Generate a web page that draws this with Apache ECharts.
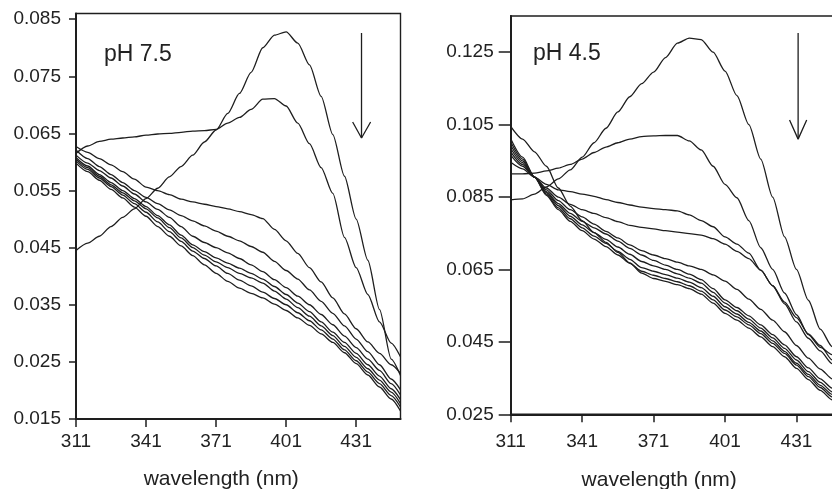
<!DOCTYPE html>
<html>
<head>
<meta charset="utf-8">
<script src="https://cdn.jsdelivr.net/npm/echarts@6/dist/echarts.min.js"></script>
<style>
html,body{margin:0;padding:0;background:#fff;}
#chart{width:832px;height:489px;}
</style>
</head>
<body>
<div id="chart"></div>
<script>
// ---------- data ----------
const wavelengths = [311,316,321,326,331,336,341,346,351,356,361,366,371,376,381,386,391,396,401,406,411,416,421,426,431,436,441,446,450];

const xTicks = [311,341,371,401,431];
const yTicksLeft = [0.015,0.025,0.035,0.045,0.055,0.065,0.075,0.085];
const yTicksRight = [0.025,0.045,0.065,0.085,0.105,0.125];

// pH 7.5 spectra
const ph75_1 = [0.0445,0.0458,0.0470,0.0487,0.0503,0.0518,0.0536,0.0554,0.0574,0.0592,0.0612,0.0635,0.0656,0.0685,0.0720,0.0757,0.0800,0.0822,0.0828,0.0808,0.0770,0.0715,0.0648,0.0575,0.0500,0.0428,0.0342,0.0255,0.0226];
const ph75_2 = [0.0615,0.0628,0.0636,0.0640,0.0642,0.0644,0.0647,0.0649,0.0650,0.0652,0.0654,0.0655,0.0657,0.0668,0.0678,0.0692,0.0710,0.0711,0.0698,0.0668,0.0632,0.0590,0.0545,0.0468,0.0415,0.0368,0.0320,0.0283,0.0259];
const ph75_3 = [0.0627,0.0617,0.0606,0.0595,0.0583,0.0570,0.0556,0.0550,0.0543,0.0535,0.0530,0.0526,0.0522,0.0518,0.0513,0.0508,0.0501,0.0482,0.0462,0.0440,0.0415,0.0390,0.0362,0.0334,0.0308,0.0285,0.0265,0.0245,0.0230];
const ph75_4 = [0.0621,0.0606,0.0592,0.0578,0.0564,0.0550,0.0538,0.0527,0.0516,0.0506,0.0497,0.0488,0.0479,0.0470,0.0462,0.0452,0.0442,0.0426,0.0410,0.0395,0.0376,0.0356,0.0335,0.0313,0.0290,0.0268,0.0245,0.0220,0.0201];
const ph75_5 = [0.0612,0.0598,0.0585,0.0572,0.0558,0.0544,0.0530,0.0517,0.0503,0.0487,0.0470,0.0459,0.0450,0.0441,0.0431,0.0420,0.0408,0.0394,0.0380,0.0365,0.0350,0.0333,0.0315,0.0295,0.0275,0.0255,0.0235,0.0212,0.0192];
const ph75_6 = [0.0608,0.0593,0.0578,0.0564,0.0550,0.0536,0.0522,0.0506,0.0490,0.0472,0.0455,0.0443,0.0432,0.0423,0.0414,0.0405,0.0395,0.0382,0.0368,0.0353,0.0338,0.0320,0.0302,0.0284,0.0265,0.0245,0.0225,0.0203,0.0184];
const ph75_7 = [0.0605,0.0590,0.0575,0.0560,0.0546,0.0532,0.0518,0.0502,0.0485,0.0467,0.0450,0.0437,0.0425,0.0415,0.0405,0.0397,0.0388,0.0374,0.0360,0.0345,0.0330,0.0313,0.0296,0.0277,0.0258,0.0238,0.0218,0.0197,0.0177];
const ph75_8 = [0.0602,0.0587,0.0572,0.0557,0.0542,0.0527,0.0512,0.0495,0.0478,0.0461,0.0444,0.0431,0.0418,0.0405,0.0393,0.0383,0.0372,0.0361,0.0350,0.0336,0.0322,0.0306,0.0290,0.0271,0.0252,0.0232,0.0212,0.0191,0.0171];
const ph75_9 = [0.0598,0.0583,0.0568,0.0552,0.0537,0.0521,0.0505,0.0487,0.0470,0.0453,0.0436,0.0420,0.0405,0.0391,0.0379,0.0370,0.0362,0.0351,0.0340,0.0327,0.0314,0.0299,0.0284,0.0266,0.0247,0.0227,0.0206,0.0185,0.0164];

// pH 4.5 spectra
const ph45_1 = [0.0842,0.0845,0.0858,0.0878,0.0900,0.0925,0.0960,0.1000,0.1040,0.1085,0.1127,0.1163,0.1195,0.1235,0.1275,0.1289,0.1285,0.1250,0.1198,0.1130,0.1050,0.0955,0.0850,0.0740,0.0650,0.0565,0.0485,0.0437,0.0410];
const ph45_2 = [0.0914,0.0914,0.0916,0.0922,0.0930,0.0940,0.0955,0.0973,0.0988,0.1000,0.1010,0.1017,0.1019,0.1020,0.1020,0.1005,0.0980,0.0935,0.0885,0.0848,0.0785,0.0710,0.0650,0.0585,0.0525,0.0470,0.0435,0.0415,0.0398];
const ph45_3 = [0.0946,0.0928,0.0905,0.0885,0.0870,0.0865,0.0858,0.0852,0.0843,0.0835,0.0828,0.0822,0.0818,0.0815,0.0812,0.0801,0.0785,0.0768,0.0740,0.0720,0.0695,0.0648,0.0605,0.0560,0.0517,0.0472,0.0440,0.0400,0.0385];
const ph45_4 = [0.0966,0.0935,0.0905,0.0875,0.0850,0.0830,0.0815,0.0805,0.0793,0.0782,0.0772,0.0766,0.0762,0.0757,0.0753,0.0749,0.0745,0.0735,0.0720,0.0700,0.0680,0.0648,0.0605,0.0555,0.0505,0.0460,0.0425,0.0390,0.0372];
const ph45_5 = [0.0975,0.0940,0.0905,0.0870,0.0840,0.0815,0.0795,0.0775,0.0755,0.0737,0.0718,0.0702,0.0690,0.0680,0.0670,0.0660,0.0650,0.0635,0.0618,0.0595,0.0568,0.0540,0.0510,0.0478,0.0440,0.0405,0.0375,0.0348,0.0335];
const ph45_6 = [0.0984,0.0945,0.0905,0.0865,0.0832,0.0805,0.0783,0.0765,0.0748,0.0728,0.0708,0.0690,0.0675,0.0662,0.0650,0.0637,0.0622,0.0597,0.0566,0.0545,0.0522,0.0497,0.0470,0.0442,0.0409,0.0378,0.0348,0.0322,0.0310];
const ph45_7 = [0.0993,0.0950,0.0905,0.0862,0.0826,0.0797,0.0773,0.0752,0.0733,0.0712,0.0692,0.0672,0.0660,0.0650,0.0638,0.0626,0.0612,0.0587,0.0557,0.0536,0.0513,0.0488,0.0461,0.0432,0.0400,0.0368,0.0338,0.0312,0.0300];
const ph45_8 = [0.1002,0.0955,0.0905,0.0858,0.0820,0.0790,0.0765,0.0742,0.0722,0.0700,0.0678,0.0655,0.0645,0.0636,0.0626,0.0615,0.0600,0.0576,0.0547,0.0527,0.0504,0.0480,0.0453,0.0424,0.0391,0.0360,0.0330,0.0305,0.0293];
const ph45_9 = [0.1011,0.0960,0.0905,0.0855,0.0815,0.0783,0.0757,0.0734,0.0713,0.0690,0.0667,0.0645,0.0634,0.0625,0.0616,0.0605,0.0590,0.0566,0.0538,0.0519,0.0497,0.0473,0.0446,0.0418,0.0386,0.0354,0.0324,0.0298,0.0287];
const ph45_10 = [0.1045,0.1010,0.0975,0.0935,0.0875,0.0825,0.0785,0.0752,0.0725,0.0697,0.0668,0.0640,0.0625,0.0617,0.0608,0.0597,0.0582,0.0557,0.0529,0.0510,0.0488,0.0464,0.0437,0.0409,0.0377,0.0346,0.0316,0.0290,0.0280];

// arrow annotations (data coordinates)
const arrowLeftShaft = [[433.3,0.0826],[433.3,0.0642]];
const arrowLeftHead = [[429.5,0.0670],[433.3,0.0642],[437.2,0.0670]];
const arrowRightShaft = [[431.7,0.1303],[431.7,0.1010]];
const arrowRightHead = [[428.1,0.1063],[431.7,0.1010],[435.3,0.1063]];

const panelLabels = ['pH 7.5','pH 4.5'];
const xAxisName = 'wavelength (nm)';

// ---------- chart ----------
const leftSpectra = [ph75_1,ph75_2,ph75_3,ph75_4,ph75_5,ph75_6,ph75_7,ph75_8,ph75_9];
const rightSpectra = [ph45_1,ph45_2,ph45_3,ph45_4,ph45_5,ph45_6,ph45_7,ph45_8,ph45_9,ph45_10];

const INK = '#1e1e1e';
const FONT = '"Liberation Sans", Arial, sans-serif';

function pairs(vals){ return vals.map((v,i)=>[wavelengths[i], v]); }

function lineSeries(vals, idx){
  return {
    type:'line', xAxisIndex:idx, yAxisIndex:idx, data:pairs(vals),
    showSymbol:false, symbol:'none', silent:true, animation:false,
    smooth:0.25, smoothMonotone:'x',
    lineStyle:{color:INK, width:1.3}, z:3
  };
}
function polySeries(pts, idx){
  return {
    type:'line', xAxisIndex:idx, yAxisIndex:idx, data:pts,
    showSymbol:false, symbol:'none', silent:true, animation:false,
    lineStyle:{color:INK, width:1.3}, z:4
  };
}

function xAxis(gridIndex, labelMargin, nameGap){
  return {
    type:'value', gridIndex, min:311, max:450,
    axisLine:{show:true, onZero:false, lineStyle:{color:INK, width:2}},
    axisTick:{show:true, length:8, customValues:xTicks, lineStyle:{color:INK, width:1.5}},
    axisLabel:{customValues:xTicks, margin:labelMargin, color:'#222', fontSize:19, fontFamily:FONT,
      formatter:v=>String(Math.round(v))},
    splitLine:{show:false},
    name:xAxisName, nameLocation:'middle', nameGap,
    nameTextStyle:{color:'#222', fontSize:21, fontFamily:FONT, padding:[0,34,0,0]}
  };
}
function yAxis(gridIndex, min, max, ticks, tickLen, labelMargin){
  return {
    type:'value', gridIndex, min, max,
    axisLine:{show:true, onZero:false, lineStyle:{color:INK, width:2}},
    axisTick:{show:true, length:tickLen, customValues:ticks, lineStyle:{color:INK, width:1.5}},
    axisLabel:{customValues:ticks, margin:labelMargin, color:'#222', fontSize:19, fontFamily:FONT,
      formatter:v=>v.toFixed(3)},
    splitLine:{show:false}
  };
}

const chart = echarts.init(document.getElementById('chart'), null, {renderer:'canvas'});
chart.setOption({
  animation:false,
  backgroundColor:'#fff',
  grid:[
    {left:76, top:13.5, width:324.5, height:405.5, containLabel:false, outerBoundsMode:'none',
     show:true, borderColor:INK, borderWidth:1.4, backgroundColor:'transparent'},
    {left:510.7, top:16, width:331, height:398.3, containLabel:false, outerBoundsMode:'none',
     show:true, borderColor:INK, borderWidth:1.4, backgroundColor:'transparent'}
  ],
  xAxis:[ xAxis(0, 13, 50), xAxis(1, 18, 55) ],
  yAxis:[
    yAxis(0, 0.015, 0.086, yTicksLeft, 7, 15),
    yAxis(1, 0.025, 0.135, yTicksRight, 12, 17)
  ],
  graphic:[
    {type:'text', left:104, top:43, style:{text:panelLabels[0], fill:'#222', font:'23px "Liberation Sans", Arial, sans-serif'}},
    {type:'text', left:533, top:42, style:{text:panelLabels[1], fill:'#222', font:'23px "Liberation Sans", Arial, sans-serif'}}
  ],
  series:[
    ...leftSpectra.map(s=>lineSeries(s,0)),
    ...rightSpectra.map(s=>lineSeries(s,1)),
    polySeries(arrowLeftShaft,0), polySeries(arrowLeftHead,0),
    polySeries(arrowRightShaft,1), polySeries(arrowRightHead,1)
  ]
});
</script>
</body>
</html>
